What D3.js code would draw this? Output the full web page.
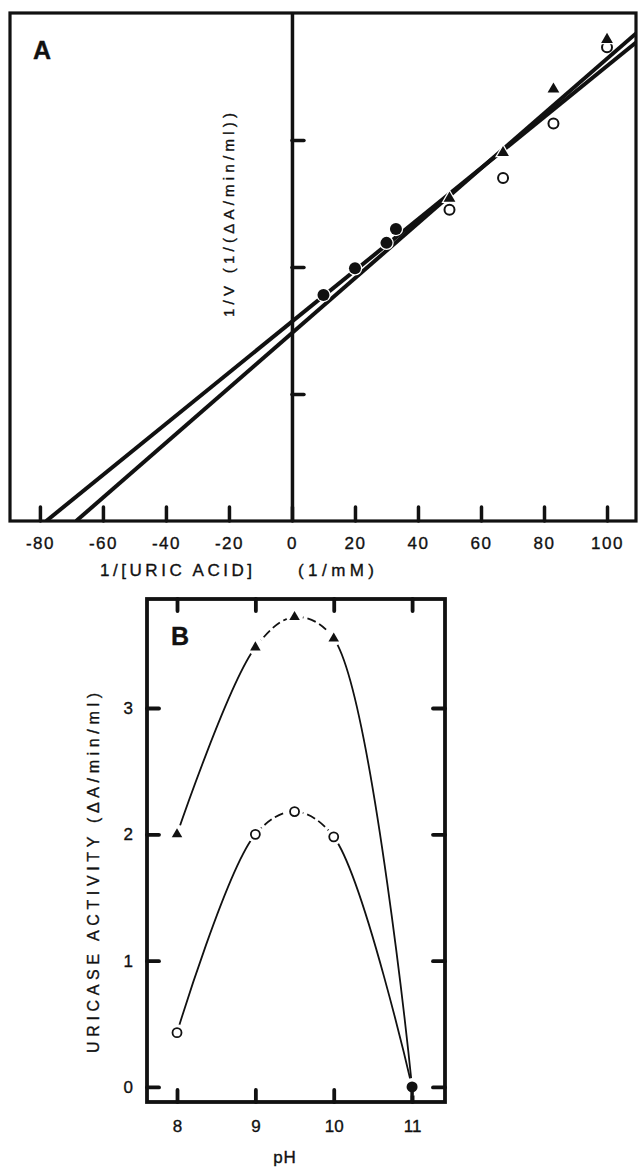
<!DOCTYPE html>
<html>
<head>
<meta charset="utf-8">
<script src="https://cdn.jsdelivr.net/npm/d3@7"></script>
<style>
  body { margin: 0; background: #fff; }
  text { font-family: "Liberation Sans", Arial, sans-serif; fill: #111; stroke: #111; stroke-width: 0.35px; }
</style>
</head>
<body>
<svg id="chart" width="638" height="1167"></svg>
<script>
// ---- panel A : double reciprocal plot ----
const filledX = [10, 20, 30, 33];
const filledY = [1.78, 1.99, 2.19, 2.30];
const triX = [50, 67, 83, 100];
const triY = [2.54, 2.90, 3.40, 3.79];
const openX = [50, 67, 83, 100];
const openY = [2.45, 2.70, 3.13, 3.73];
// fitted lines, given by where they cut the axes
const fitXIntercepts = [-78, -68.5];
const fitYIntercepts = [1.57, 1.48];
const xTicksA = [-80, -60, -40, -20, 0, 20, 40, 60, 80, 100];
const yTicksA = [1, 2, 3];

// ---- panel B : pH profile ----
const pH = [8, 9, 9.5, 10, 11];
const triActivity = [2.0, 3.48, 3.72, 3.55, 0];
const openActivity = [0.43, 2.0, 2.18, 1.98, 0];
const xTicksB = [8, 9, 10, 11];
const yTicksB = [0, 1, 2, 3];

const ink = "#111";
const svg = d3.select("#chart");

// ================= panel A =================
const a = { left: 10, top: 13, right: 636, bottom: 521 };
const xA = d3.scaleLinear().domain([-89.5, 109.2]).range([a.left, a.right]);
const yA = d3.scaleLinear().domain([0, 4]).range([a.bottom, a.top]);

svg.append("clipPath").attr("id", "clipA")
  .append("rect")
  .attr("x", a.left).attr("y", a.top)
  .attr("width", a.right - a.left).attr("height", a.bottom - a.top);

const gA = svg.append("g");

// fitted lines
const lineA = d3.line().x(d => xA(d[0])).y(d => yA(d[1]));
const xMaxA = xA.domain()[1];
fitXIntercepts.forEach((xi, i) => {
  const slope = fitYIntercepts[i] / -xi;
  const pts = [[xi, 0], [xMaxA, fitYIntercepts[i] + slope * xMaxA]];
  gA.append("path")
    .attr("clip-path", "url(#clipA)")
    .attr("d", lineA(pts))
    .attr("fill", "none")
    .attr("stroke", ink)
    .attr("stroke-width", 4);
});

// frame
gA.append("rect")
  .attr("x", a.left).attr("y", a.top)
  .attr("width", a.right - a.left).attr("height", a.bottom - a.top)
  .attr("fill", "none").attr("stroke", ink).attr("stroke-width", 3.2);

// x axis with ticks pointing up
const axA = gA.append("g")
  .attr("transform", `translate(0,${a.bottom})`)
  .call(d3.axisBottom(xA).tickValues(xTicksA).tickSize(-14).tickFormat(d => String(d)));
axA.select(".domain").remove();
axA.selectAll(".tick line").attr("stroke", ink).attr("stroke-width", 3.5).attr("stroke-linecap", "round");
axA.selectAll(".tick text")
  .attr("y", 28).attr("dy", null)
  .attr("font-size", 17).attr("letter-spacing", 1.5)
  .attr("font-family", "Liberation Sans, Arial, sans-serif").attr("fill", ink);

// vertical axis at x = 0, ticks to the right
const ayA = gA.append("g")
  .attr("transform", `translate(${xA(0)},0)`)
  .call(d3.axisRight(yA).tickValues(yTicksA).tickSize(12).tickSizeOuter(0).tickFormat(""));
ayA.select(".domain").attr("stroke", ink).attr("stroke-width", 3.5);
ayA.selectAll(".tick line").attr("stroke", ink).attr("stroke-width", 3.5).attr("stroke-linecap", "round");

// markers (white halo cuts the lines like in the print)
const tri = d3.symbol(d3.symbolTriangle);
openX.forEach((x, i) => {
  gA.append("circle").attr("cx", xA(x)).attr("cy", yA(openY[i])).attr("r", 5)
    .attr("fill", "#fff").attr("stroke", ink).attr("stroke-width", 2);
});
triX.forEach((x, i) => {
  gA.append("path").attr("transform", `translate(${xA(x)},${yA(triY[i])})`)
    .attr("d", tri.size(60)()).attr("fill", ink)
    .attr("stroke", "#fff").attr("stroke-width", 2.5).attr("paint-order", "stroke");
});
filledX.forEach((x, i) => {
  gA.append("circle").attr("cx", xA(x)).attr("cy", yA(filledY[i])).attr("r", 6)
    .attr("fill", ink).attr("stroke", "#fff").attr("stroke-width", 2.5).attr("paint-order", "stroke");
});

gA.append("text").attr("x", 33).attr("y", 59)
  .attr("font-size", 25).attr("font-weight", "bold").text("A");

gA.append("text")
  .attr("transform", "translate(234,215) rotate(-90)")
  .attr("text-anchor", "middle")
  .attr("font-size", 15)
  .attr("textLength", 204).attr("lengthAdjust", "spacing")
  .text("1/V  (1/(\u0394A/min/ml))");

gA.append("text").attr("x", 100).attr("y", 576)
  .attr("font-size", 17).attr("textLength", 152).attr("lengthAdjust", "spacing")
  .text("1/[URIC ACID]");
gA.append("text").attr("x", 298).attr("y", 576)
  .attr("font-size", 17).attr("textLength", 76).attr("lengthAdjust", "spacing")
  .text("(1/mM)");

// ================= panel B =================
const b = { left: 147, top: 599, right: 445, bottom: 1102 };
const xB = d3.scaleLinear().domain([7.617, 11.42]).range([b.left, b.right]);
const yB = d3.scaleLinear().domain([-0.119, 3.863]).range([b.bottom, b.top]);

const gB = svg.append("g");

// smooth curves, the part around the maximum is dashed
const curveB = d3.line().x(d => xB(d[0])).y(d => yB(d[1])).curve(d3.curveCatmullRom.alpha(0.5));
[triActivity, openActivity].forEach(vals => {
  const pts = pH.map((p, i) => [p, vals[i]]);
  const segs = curveB(pts).match(/C[^MC]*/g);
  segs.forEach((s, i) => {
    gB.append("path")
      .attr("d", `M${xB(pts[i][0])},${yB(pts[i][1])}${s}`)
      .attr("fill", "none").attr("stroke", ink).attr("stroke-width", 1.8)
      .attr("stroke-dasharray", (i === 1 || i === 2) ? "9,4" : null);
  });
});

// frame
gB.append("rect")
  .attr("x", b.left).attr("y", b.top)
  .attr("width", b.right - b.left).attr("height", b.bottom - b.top)
  .attr("fill", "none").attr("stroke", ink).attr("stroke-width", 3.8);

function styleTicks(g) {
  g.select(".domain").remove();
  g.selectAll(".tick line").attr("stroke", ink).attr("stroke-width", 3.8).attr("stroke-linecap", "round");
  g.selectAll(".tick text")
    .attr("font-size", 17).attr("fill", ink)
    .attr("font-family", "Liberation Sans, Arial, sans-serif");
}

const bx = gB.append("g").attr("transform", `translate(0,${b.bottom})`)
  .call(d3.axisBottom(xB).tickValues(xTicksB).tickSize(-12).tickFormat(d3.format("d")));
styleTicks(bx);
bx.selectAll(".tick text").attr("y", 30).attr("dy", null);

const tx = gB.append("g").attr("transform", `translate(0,${b.top})`)
  .call(d3.axisTop(xB).tickValues(xTicksB).tickSize(-12).tickFormat(""));
styleTicks(tx);

const ly = gB.append("g").attr("transform", `translate(${b.left},0)`)
  .call(d3.axisLeft(yB).tickValues(yTicksB).tickSize(-12).tickFormat(d3.format("d")));
styleTicks(ly);
ly.selectAll(".tick text").attr("x", -14);

const ry = gB.append("g").attr("transform", `translate(${b.right},0)`)
  .call(d3.axisRight(yB).tickValues(yTicksB).tickSize(-12).tickFormat(""));
styleTicks(ry);

// markers with white halo
const last = pH.length - 1;
pH.forEach((p, i) => {
  if (i === last) return;
  gB.append("circle").attr("cx", xB(p)).attr("cy", yB(openActivity[i])).attr("r", 8.5).attr("fill", "#fff");
  gB.append("circle").attr("cx", xB(p)).attr("cy", yB(openActivity[i])).attr("r", 4.5)
    .attr("fill", "#fff").attr("stroke", ink).attr("stroke-width", 1.8);
  gB.append("circle").attr("cx", xB(p)).attr("cy", yB(triActivity[i]) - 1).attr("r", 8.5).attr("fill", "#fff");
  gB.append("path").attr("transform", `translate(${xB(p)},${yB(triActivity[i])})`)
    .attr("d", tri.size(48)()).attr("fill", ink);
});
gB.append("circle").attr("cx", xB(pH[last])).attr("cy", yB(openActivity[last])).attr("r", 9).attr("fill", "#fff");
gB.append("circle").attr("cx", xB(pH[last])).attr("cy", yB(openActivity[last])).attr("r", 5.5).attr("fill", ink);
gB.append("line")
  .attr("x1", xB(pH[last])).attr("x2", xB(pH[last]))
  .attr("y1", yB(openActivity[last])).attr("y2", b.bottom)
  .attr("stroke", ink).attr("stroke-width", 3.5);

gB.append("text").attr("x", 171).attr("y", 645)
  .attr("font-size", 25).attr("font-weight", "bold").text("B");

gB.append("text")
  .attr("transform", "translate(99,873) rotate(-90)")
  .attr("text-anchor", "middle")
  .attr("font-size", 16)
  .attr("textLength", 360).attr("lengthAdjust", "spacing")
  .text("URICASE  ACTIVITY  (\u0394A/min/ml)");

gB.append("text").attr("x", 285).attr("y", 1163)
  .attr("text-anchor", "middle").attr("font-size", 17).attr("letter-spacing", 1)
  .text("pH");
</script>
</body>
</html>
